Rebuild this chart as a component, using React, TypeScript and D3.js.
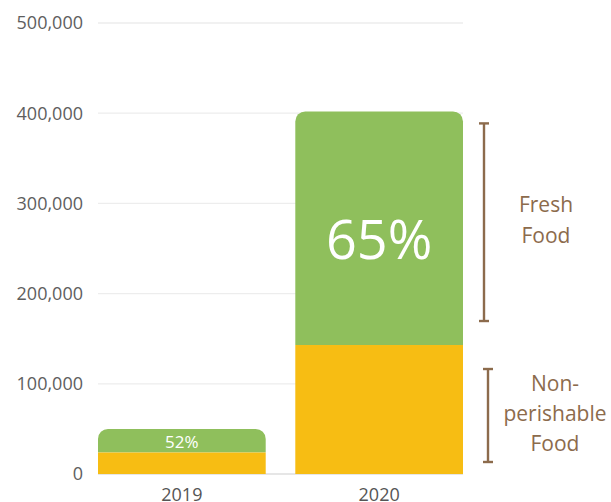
import { useEffect } from "react"
import * as d3 from "d3"

const years = ["2019", "2020"]
const nonPerishable = [24000, 143000]
const fresh = [26000, 259000]
const freshShare = ["52%", "65%"]
const yTicks = [0, 100000, 200000, 300000, 400000, 500000]

const WIDTH = 611
const HEIGHT = 502
const MARGIN = { top: 23, right: 148, bottom: 28, left: 98 }

const GREEN = "#8fbf5c"
const YELLOW = "#f7bd13"
const BROWN = "#8c6b4c"
const FONT = "'Open Sans', 'Noto Sans', sans-serif"

const topRounded = (x: number, y: number, w: number, h: number, r: number) => {
  const p = d3.path()
  p.moveTo(x, y + h)
  p.lineTo(x, y + r)
  p.arcTo(x, y, x + r, y, r)
  p.lineTo(x + w - r, y)
  p.arcTo(x + w, y, x + w, y + r, r)
  p.lineTo(x + w, y + h)
  p.closePath()
  return p.toString()
}

export default function App() {
  useEffect(() => {
    document.body.style.margin = "0"
  }, [])

  const boundsWidth = WIDTH - MARGIN.left - MARGIN.right
  const boundsHeight = HEIGHT - MARGIN.top - MARGIN.bottom

  const yScale = d3.scaleLinear().domain([0, 500000]).range([boundsHeight, 0])
  const xScale = d3.scaleBand().domain(years).range([0, boundsWidth]).paddingInner(0.15).paddingOuter(0)
  const fmt = d3.format(",")

  const bw = xScale.bandwidth()
  const last = years.length - 1
  const lastX = xScale(years[last])! + bw
  const freshTop = yScale(nonPerishable[last] + fresh[last])
  const freshBottom = yScale(nonPerishable[last])
  const npTop = yScale(nonPerishable[last])
  const npBottom = yScale(0)
  const freshMid = (freshTop + freshBottom) / 2 - 8
  const npMid = (npTop + npBottom) / 2 + 4

  return (
    <svg width={WIDTH} height={HEIGHT} style={{ display: "block" }} fontFamily={FONT}>
      <g transform={`translate(${MARGIN.left},${MARGIN.top})`}>
        {yTicks.map((t) => (
          <g key={t}>
            <line x1={0} x2={boundsWidth} y1={yScale(t)} y2={yScale(t)} stroke={t === 0 ? "#dedede" : "#ededed"} strokeWidth={1.3} />
            <text x={-15} y={yScale(t)} dy="0.35em" textAnchor="end" fontSize={18} fill="#5e5e5e">
              {fmt(t)}
            </text>
          </g>
        ))}

        {years.map((yr, i) => {
          const x = xScale(yr)!
          const total = nonPerishable[i] + fresh[i]
          const yTop = yScale(total)
          const ySplit = yScale(nonPerishable[i])
          const big = i === last
          return (
            <g key={yr}>
              <rect x={x} y={ySplit} width={bw} height={yScale(0) - ySplit} fill={YELLOW} />
              <path d={topRounded(x, yTop, bw, ySplit - yTop, 10)} fill={GREEN} />
              <text
                x={x + bw / 2}
                y={(yTop + ySplit) / 2 + (big ? 12 : 1)}
                dy="0.35em"
                textAnchor="middle"
                fontSize={big ? 54 : 17}
                fill="#fff"
              >
                {freshShare[i]}
              </text>
              <text x={x + bw / 2} y={boundsHeight + 27} textAnchor="middle" fontSize={18} fill="#555">
                {yr}
              </text>
            </g>
          )
        })}

        {/* brackets */}
        <g stroke={BROWN} strokeWidth={2.4}>
          <line x1={lastX + 21} x2={lastX + 21} y1={freshTop + 12} y2={freshBottom - 24} />
          <line x1={lastX + 16} x2={lastX + 26} y1={freshTop + 12} y2={freshTop + 12} />
          <line x1={lastX + 16} x2={lastX + 26} y1={freshBottom - 24} y2={freshBottom - 24} />
          <line x1={lastX + 25} x2={lastX + 25} y1={npTop + 24} y2={npBottom - 12} />
          <line x1={lastX + 20} x2={lastX + 30} y1={npTop + 24} y2={npTop + 24} />
          <line x1={lastX + 20} x2={lastX + 30} y1={npBottom - 12} y2={npBottom - 12} />
        </g>
        <g fontSize={21} fill={BROWN} textAnchor="middle">
          <text x={lastX + 83} y={freshMid - 15.5} dy="0.35em">Fresh</text>
          <text x={lastX + 83} y={freshMid + 15.5} dy="0.35em">Food</text>
          <text x={lastX + 92} y={npMid - 30} dy="0.35em">Non-</text>
          <text x={lastX + 92} y={npMid} dy="0.35em">perishable</text>
          <text x={lastX + 92} y={npMid + 30} dy="0.35em">Food</text>
        </g>
      </g>
    </svg>
  )
}
